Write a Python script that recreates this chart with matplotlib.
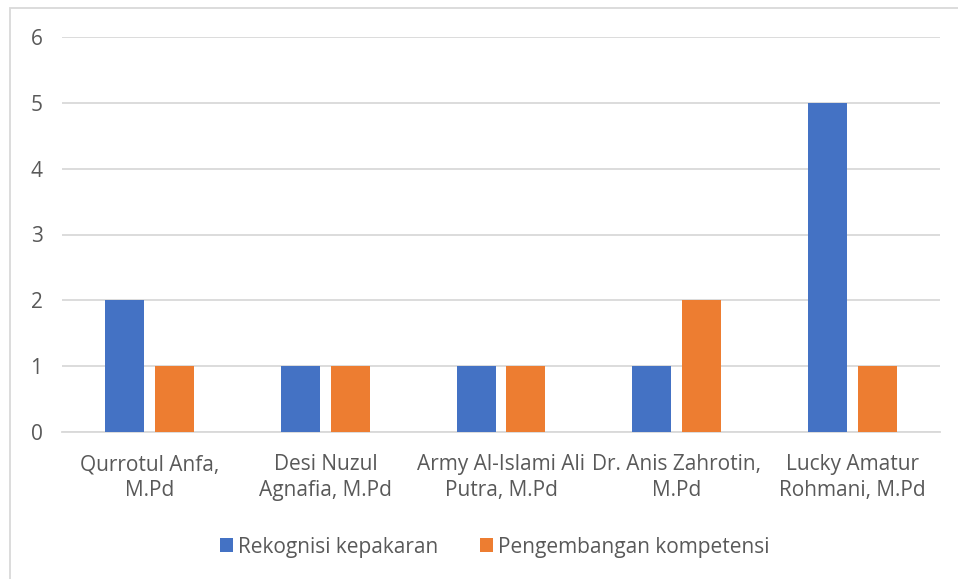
import numpy as np
import matplotlib.pyplot as plt
from matplotlib.patches import Rectangle

# data
names = ['Qurrotul Anfa,\nM.Pd', 'Desi Nuzul\nAgnafia, M.Pd', 'Army Al-Islami Ali\nPutra, M.Pd',
         'Dr. Anis Zahrotin,\nM.Pd', 'Lucky Amatur\nRohmani, M.Pd']
rekognisi = [2, 1, 1, 1, 5]
pengembangan = [1, 1, 1, 2, 1]
series_names = ['Rekognisi kepakaran', 'Pengembangan kompetensi']

plt.rcParams['font.family'] = ['Open Sans', 'DejaVu Sans']
grey_text = '#595959'

fig = plt.figure(figsize=(9.58, 5.79), dpi=100)
# chart border (cropped at right/bottom)
fig.patches.append(Rectangle((10 / 958, -0.1), 1.2, 1 - 8 / 579 + 0.1, transform=fig.transFigure,
                             fill=False, edgecolor='#D9D9D9', linewidth=1.3))

ax = fig.add_axes([62 / 958, 1 - 432 / 579, 878 / 958, 395 / 579])
x = np.arange(len(names))
w = 0.222
ax.bar(x - 0.142, rekognisi, w, color='#4472C4', label=series_names[0], zorder=3)
ax.bar(x + 0.142, pengembangan, w, color='#ED7D31', label=series_names[1], zorder=3)

ax.set_xlim(-0.5, len(names) - 0.5)
ax.set_ylim(0, 6)
ax.set_yticks(range(7))
ax.yaxis.grid(True, color='#D9D9D9', linewidth=1.3, zorder=0)
for s in ['top', 'right', 'left']:
    ax.spines[s].set_visible(False)
ax.spines['bottom'].set_color('#D9D9D9')
ax.spines['bottom'].set_linewidth(1.3)
ax.set_xticks(x)
ax.set_xticklabels(names, multialignment='center', linespacing=1.3)
ax.tick_params(axis='both', length=0, labelsize=15, colors=grey_text)
ax.tick_params(axis='y', pad=14)
ax.tick_params(axis='x', pad=16)

fig.legend(loc='center', bbox_to_anchor=(0.5 + 16 / 958, 1 - 547 / 579), ncol=2, frameon=False,
           fontsize=15, labelcolor=grey_text, handlelength=0.62, handleheight=0.62,
           handletextpad=0.25, columnspacing=2.0)

fig.savefig('out.png', dpi=100)
